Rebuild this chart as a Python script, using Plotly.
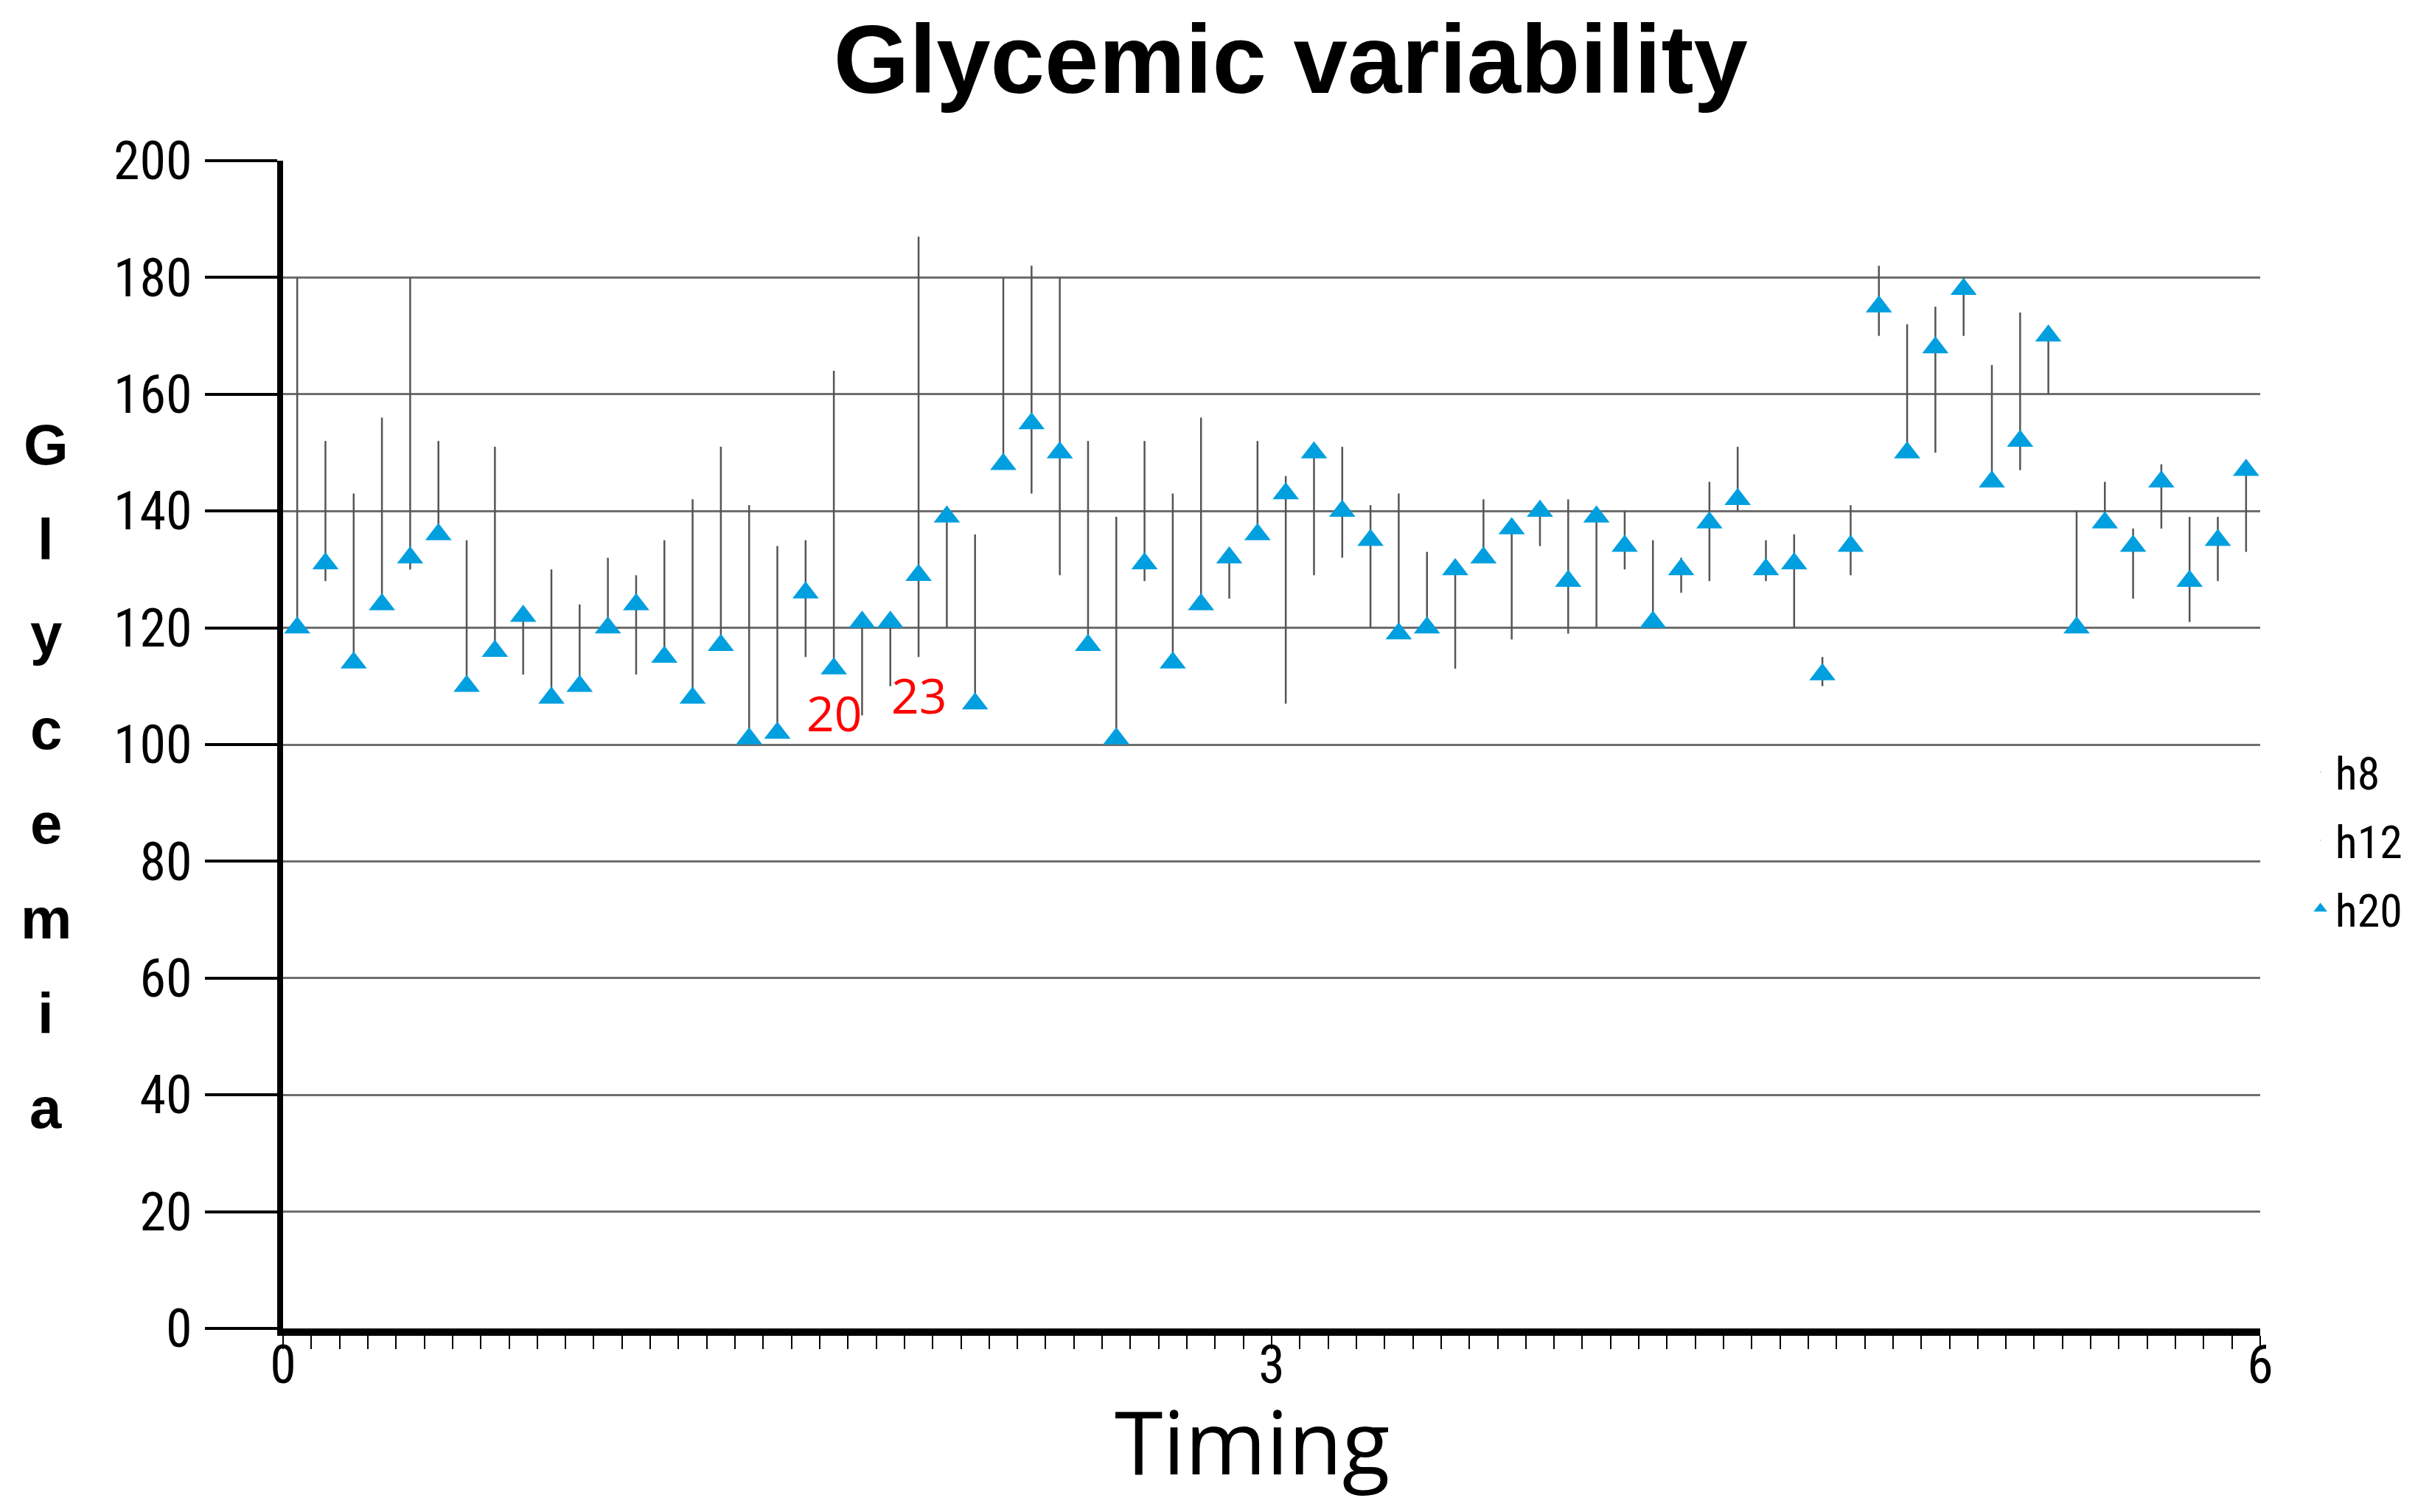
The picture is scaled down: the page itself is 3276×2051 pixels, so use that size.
import plotly.graph_objects as go

# ---------------- data ----------------
points = list(range(1, 71))  # measurement index along the Timing axis

h20 = [120, 131, 114, 124, 132, 136, 110, 116, 122, 108,
       110, 120, 124, 115, 108, 117, 101, 102, 126, 113,
       121, 121, 129, 139, 107, 148, 155, 150, 117, 101,
       131, 114, 124, 132, 136, 143, 150, 140, 135, 119,
       120, 130, 132, 137, 140, 128, 139, 134, 121, 130,
       138, 142, 130, 131, 112, 134, 175, 150, 168, 178,
       145, 152, 170, 120, 138, 134, 145, 128, 135, 147]

h8 = [180, 152, 143, 156, 180, 152, 135, 151, 122, 130,
      124, 132, 129, 135, 142, 151, 141, 134, 135, 164,
      121, 121, 187, 139, 136, 180, 182, 180, 152, 139,
      152, 143, 156, 132, 152, 146, 150, 151, 141, 143,
      133, 130, 142, 137, 140, 142, 139, 140, 135, 132,
      145, 151, 135, 136, 115, 141, 182, 172, 175, 180,
      165, 174, 170, 140, 145, 137, 148, 139, 139, 147]

h12 = [120, 128, 114, 124, 130, 136, 110, 116, 112, 108,
       110, 120, 112, 115, 108, 117, 101, 102, 115, 113,
       105, 110, 115, 120, 107, 148, 143, 129, 117, 101,
       128, 114, 124, 125, 136, 107, 129, 132, 120, 119,
       120, 113, 132, 118, 134, 119, 120, 130, 121, 126,
       128, 140, 128, 120, 110, 129, 170, 150, 150, 170,
       145, 147, 160, 120, 138, 125, 137, 121, 128, 133]

label_points = [20, 23]
label_y = [105.6, 108.6]

x_tick_vals = [0.5, 35.5, 70.5]
x_tick_text = ["0", "3", "6"]

y_title_letters = list("Glycemia")

# ---------------- styles ----------------
NARROW = "Liberation Sans Narrow, Arial Narrow, Roboto Condensed, sans-serif"
BLUE = "#009fdf"

fig = go.Figure()

# high-low lines (span of h8 / h12 / h20 per point)
line_x, line_y = [], []
for p, a, b, c in zip(points, h8, h12, h20):
    line_x += [p, p, None]
    line_y += [min(a, b, c), max(a, b, c), None]

fig.add_trace(go.Scatter(
    x=line_x, y=line_y, mode="lines",
    line=dict(color="#555555", width=2.5),
    showlegend=False, hoverinfo="skip"))

fig.add_trace(go.Scatter(
    x=points, y=h8, mode="markers", name="h8", legendgroup="g8",
    marker=dict(opacity=0, size=2, color="black")))
fig.add_trace(go.Scatter(
    x=points, y=h12, mode="markers", name="h12", legendgroup="g12",
    marker=dict(opacity=0, size=2, color="black")))
fig.add_trace(go.Scatter(
    x=points, y=h20, mode="markers", name="h20", legendgroup="g20",
    marker=dict(symbol="triangle-up", size=31, color=BLUE, line=dict(width=0)),
    cliponaxis=False))

annotations = []
for p, yv in zip(label_points, label_y):
    annotations.append(dict(
        x=p, y=yv, xref="x", yref="y", text=str(p), showarrow=False,
        font=dict(family="Open Sans, sans-serif", size=66, color="#ff0000"),
        xanchor="center", yanchor="middle"))

# stacked y-axis title letters
for k, ch in enumerate(y_title_letters):
    annotations.append(dict(
        x=-0.120, y=151.4 - k * 16.24, xref="paper", yref="y", text=ch,
        showarrow=False, xanchor="center", yanchor="middle",
        font=dict(family="Liberation Sans, Arial, sans-serif", size=78,
                  color="black", weight="bold")))

# x-axis title
annotations.append(dict(
    x=0.49, y=-0.096, xref="paper", yref="paper", text="Timing",
    showarrow=False, xanchor="center", yanchor="middle",
    font=dict(family="Open Sans, sans-serif", size=119, color="black")))

fig.update_layout(
    width=3276, height=2051, autosize=False,
    margin=dict(l=376, r=218, t=210, b=257),
    paper_bgcolor="white", plot_bgcolor="white",
    title=dict(text="<b>Glycemic variability</b>", x=0.532, xref="container",
               xanchor="center", y=1 - 72 / 2051, yref="container",
               yanchor="middle",
               font=dict(family="Liberation Sans, Arial, sans-serif", size=132,
                         color="black")),
    showlegend=True,
    legend=dict(x=1.023, xanchor="left", y=0.418, yanchor="middle",
                font=dict(family=NARROW, size=62, color="black"),
                bgcolor="rgba(0,0,0,0)", traceorder="grouped",
                tracegroupgap=9),
    annotations=annotations,
    xaxis=dict(range=[0.5, 70.5], tickmode="array", tickvals=x_tick_vals,
               ticktext=x_tick_text, showgrid=False, zeroline=False,
               showline=True, linecolor="black", linewidth=10,
               ticks="outside", ticklen=18, tickwidth=2, tickcolor="black",
               ticklabelstandoff=-40,
               tickfont=dict(family=NARROW, size=72, color="black"),
               minor=dict(tick0=0.5, dtick=1, ticks="outside", ticklen=18,
                          tickwidth=2, tickcolor="black", showgrid=False)),
    yaxis=dict(range=[0, 200], dtick=20, tick0=0, showgrid=True,
               gridcolor="#6e6e6e", gridwidth=2.5, zeroline=False,
               showline=True, linecolor="black", linewidth=8,
               ticks="outside", ticklen=98, tickwidth=4, tickcolor="black",
               ticklabelstandoff=3,
               tickfont=dict(family=NARROW, size=72, color="black")),
)

fig.write_html("out.html")
